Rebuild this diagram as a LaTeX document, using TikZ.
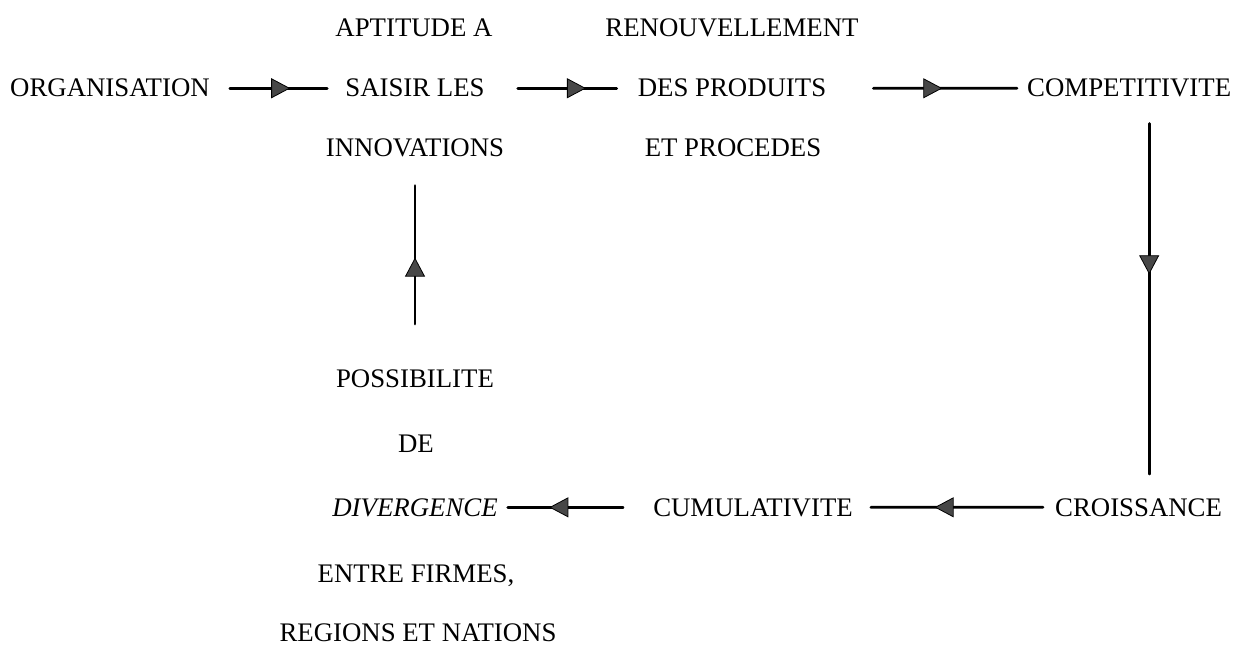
\documentclass[tikz,border=0pt]{standalone}
\usepackage{fontspec}
\setmainfont{Liberation Serif}
\usetikzlibrary{arrows.meta,decorations.markings}

\tikzset{
  lbl/.style={inner sep=0pt, anchor=base, font=\fontsize{26.8}{30}\selectfont},
  link/.style={line width=2.8pt, line cap=round},
  midarrow/.style={link, postaction={decorate},
    decoration={markings, mark=at position #1 with
      {\arrow{Triangle[length=19pt,width=20pt,fill=black!72,line width=0.8pt]}}}}
}

\begin{document}
\begin{tikzpicture}[x=1pt,y=-1pt]
\useasboundingbox[fill=white] (0,0) rectangle (1245,647);

% upper row
\node[lbl, anchor=base west] (org) at (10,97) {ORGANISATION};
\node[lbl] (apt)    at (414,37)  {APTITUDE A};
\node[lbl] (saisir) at (415,97)  {SAISIR LES};
\node[lbl] (innov)  at (415,157) {INNOVATIONS};
\node[lbl] (renouv) at (732,37)  {RENOUVELLEMENT};
\node[lbl] (prod)   at (732,97)  {DES PRODUITS};
\node[lbl] (proc)   at (733,157) {ET PROCEDES};
\node[lbl, anchor=base west] (comp) at (1027,97) {COMPETITIVITE};

% lower part
\node[lbl] (possib) at (415,387) {POSSIBILITE};
\node[lbl] (de)     at (416,452) {DE};
\node[lbl] (diverg) at (415,516) {\itshape DIVERGENCE};
\node[lbl] (entre)  at (416,582) {ENTRE FIRMES,};
\node[lbl] (region) at (418,641) {REGIONS ET NATIONS};
\node[lbl] (cumul)  at (753,516) {CUMULATIVITE};
\node[lbl, anchor=base west] (cross) at (1055,516) {CROISSANCE};

% connectors with arrowheads in the middle
\draw[midarrow=0.62] ([xshift=20pt]org.east) -- ([xshift=-18pt]saisir.west);
\draw[midarrow=0.69] ([xshift=33pt]saisir.east) -- ([xshift=-21pt]prod.west);
\draw[midarrow=0.48] ([xshift=47pt]prod.east) -- ([xshift=-10pt]comp.west);
\draw[midarrow=0.43] ([xshift=20pt,yshift=-26pt]comp.south)
  -- ([xshift=20pt,yshift=24pt]comp.south |- cross.north);
\draw[midarrow=0.63] ([xshift=-12pt]cross.west) -- ([xshift=18pt]cumul.east);
\draw[midarrow=0.64] ([xshift=-30pt]cumul.west) -- ([xshift=10pt]diverg.east);
\draw[midarrow=0.48] ([yshift=45pt]possib.north) -- ([yshift=-28pt]innov.south);
\end{tikzpicture}
\end{document}
